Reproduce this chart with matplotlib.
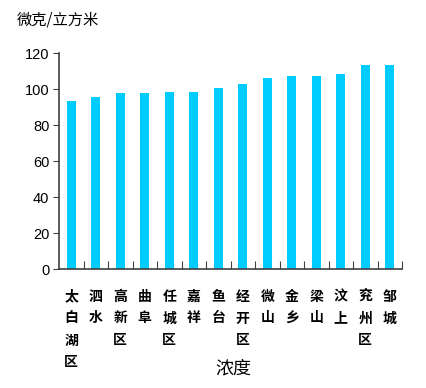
import matplotlib
matplotlib.use("Agg")
import matplotlib.pyplot as plt
import numpy as np

plt.rcParams['font.family'] = ['Noto Sans CJK SC', 'DejaVu Sans']

# data
counties = ['太白湖区', '泗水', '高新区', '曲阜', '任城区', '嘉祥', '鱼台',
            '经开区', '微山', '金乡', '梁山', '汶上', '兖州区', '邹城']
values = [93.3, 95.4, 97.6, 97.6, 98.3, 98.3, 100.4,
          102.6, 106.1, 107.0, 107.0, 108.3, 113.5, 113.5]
yticks = [0, 20, 40, 60, 80, 100, 120]

fig = plt.figure(figsize=(4.26, 3.88), dpi=100)
ax = fig.add_axes([0.1385, 0.3067, 0.8052, 0.5567])

x = np.arange(len(counties))
ax.bar(x, values, width=0.37, color='#00CCFF')

ax.set_xlim(-0.5, len(counties) - 0.5)
ax.set_ylim(0, 120)
ax.set_yticks(yticks)
ax.set_yticklabels([str(v) for v in yticks], family=['Liberation Sans', 'DejaVu Sans'], fontsize=10.5)
ax.tick_params(axis='y', direction='out', length=4, color='#404040', pad=3)

# category boundary ticks on x
ax.set_xticks(np.arange(len(counties)) + 0.5)
ax.set_xticklabels([])
ax.tick_params(axis='x', direction='in', length=6, color='#404040')

for s in ['top', 'right']:
    ax.spines[s].set_visible(False)
for s in ['left', 'bottom']:
    ax.spines[s].set_color('#404040')
    ax.spines[s].set_linewidth(1.2)

# vertical stacked labels
for i, name in enumerate(counties):
    ax.text(i, -0.095, '\n'.join(name), transform=ax.get_xaxis_transform(),
            ha='center', va='top', fontsize=10, linespacing=1.72, fontweight='bold')

fig.text(0.547, 0.05, '浓度', ha='center', va='center', fontsize=13)
fig.text(0.04, 0.948, '微克/立方米', ha='left', va='center', fontsize=11)

fig.savefig('out.png', dpi=100)
